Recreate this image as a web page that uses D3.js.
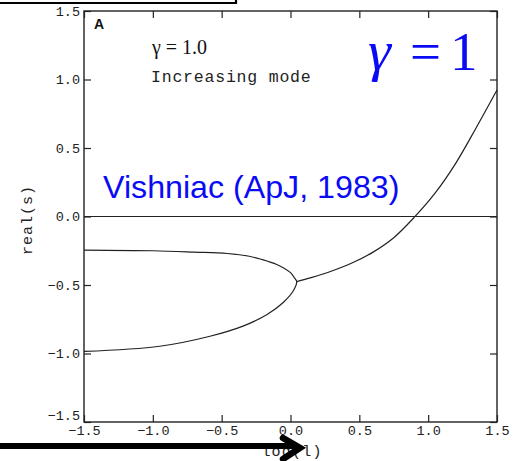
<!DOCTYPE html>
<html>
<head>
<meta charset="utf-8">
<script src="https://cdn.jsdelivr.net/npm/d3@7"></script>
<style>
  html, body { margin: 0; padding: 0; background: #fff; }
  svg { display: block; }
</style>
</head>
<body>
<svg id="chart" width="520" height="461"></svg>
<script>
// Growth-rate branches, real(s) against log(l)
const xTicks = [-1.5, -1.0, -0.5, 0.0, 0.5, 1.0, 1.5];
const yTicks = [-1.5, -1.0, -0.5, 0.0, 0.5, 1.0, 1.5];

// upper decaying branch, runs into the nose where it meets the lower one
const upperX = [-1.5, -1.0, -0.7, -0.46, -0.3, -0.22, -0.1, 0.0, 0.03, 0.045];
const upperY = [-0.245, -0.25, -0.26, -0.27, -0.29, -0.31, -0.35, -0.41, -0.45, -0.475];

// lower decaying branch
const lowerX = [-1.5, -0.95, -0.585, -0.345, -0.17, -0.055, 0.018];
const lowerY = [-0.985, -0.947, -0.874, -0.80, -0.716, -0.63, -0.546];

// single real branch beyond the cusp, turns unstable near log(l) = 0.9
const rightX = [0.045, 0.15, 0.3, 0.45, 0.6, 0.75, 0.9, 1.05, 1.2, 1.35, 1.5];
const rightY = [-0.475, -0.446, -0.398, -0.338, -0.26, -0.155, -0.005, 0.17, 0.388, 0.65, 0.923];

// zero line
const zeroX = [-1.5, 1.5];
const zeroY = [0, 0];

const svg = d3.select("#chart");
const x = d3.scaleLinear().domain([-1.5, 1.5]).range([84, 497]);
const y = d3.scaleLinear().domain([-1.5, 1.5]).range([422, 11]);

const ink = "#222";
const mono = "'Liberation Mono', 'DejaVu Sans Mono', monospace";

// frame
svg.append("rect")
  .attr("x", x(-1.5)).attr("y", y(1.5))
  .attr("width", x(1.5) - x(-1.5)).attr("height", y(-1.5) - y(1.5))
  .attr("fill", "none").attr("stroke", ink).attr("stroke-width", 1.4);

// inward ticks on all four sides; labels only on bottom and left
const fmt = d3.format(".1f");
const axisB = d3.axisBottom(x).tickValues(xTicks).tickSize(-7).tickPadding(3).tickFormat(fmt);
const axisT = d3.axisTop(x).tickValues(xTicks).tickSize(-7).tickFormat("");
const axisL = d3.axisLeft(y).tickValues(yTicks).tickSize(-7).tickPadding(4).tickFormat(fmt);
const axisR = d3.axisRight(y).tickValues(yTicks).tickSize(-7).tickFormat("");

function styleAxis(g) {
  g.select(".domain").remove();
  g.selectAll(".tick line").attr("stroke", ink).attr("stroke-width", 1.2);
  g.selectAll(".tick text")
    .attr("fill", ink)
    .style("font-family", mono)
    .style("font-size", "13.5px");
}
svg.append("g").attr("transform", `translate(0,${y(-1.5)})`).call(axisB).call(styleAxis);
svg.append("g").attr("transform", `translate(0,${y(1.5)})`).call(axisT).call(styleAxis);
const gl = svg.append("g").attr("transform", `translate(${x(-1.5)},0)`).call(axisL).call(styleAxis);
svg.append("g").attr("transform", `translate(${x(1.5)},0)`).call(axisR).call(styleAxis);
// nudge the corner label so it clears the bottom axis
gl.selectAll(".tick").filter(d => d === -1.5).select("text").attr("dy", "-0.2em");

// axis titles
svg.append("text")
  .attr("x", 292).attr("y", 456)
  .attr("text-anchor", "middle")
  .attr("fill", ink)
  .style("font-family", mono).style("font-size", "15px").style("letter-spacing", "1.2px")
  .text("log(l)");

svg.append("text")
  .attr("transform", "translate(32,220) rotate(-90)")
  .attr("text-anchor", "middle")
  .attr("fill", ink)
  .style("font-family", mono).style("font-size", "15px").style("letter-spacing", "1px")
  .text("real(s)");

// curves: zero line, the closed nose of the two decaying branches, the growing branch
const pts = (xs, ys) => d3.zip(xs, ys);
const straight = d3.line().x(d => x(d[0])).y(d => y(d[1]));
const smooth = d3.line().x(d => x(d[0])).y(d => y(d[1])).curve(d3.curveCatmullRom.alpha(0.5));

const nose = pts(upperX, upperY).concat(pts(lowerX, lowerY).reverse());
const curves = svg.append("g")
  .attr("fill", "none").attr("stroke", ink).attr("stroke-width", 1.2);
curves.append("path").attr("d", straight(pts(zeroX, zeroY)));
curves.append("path").attr("d", smooth(nose));
curves.append("path").attr("d", smooth(pts(rightX, rightY)));

// panel annotations
svg.append("text")
  .attr("x", 94).attr("y", 29)
  .attr("fill", "#111")
  .style("font-family", "'Liberation Sans', Arial, sans-serif")
  .style("font-size", "14px").style("font-weight", "bold")
  .text("A");

svg.append("text")
  .attr("x", 152).attr("y", 54)
  .attr("fill", "#111")
  .style("font-family", "'Liberation Serif', 'Times New Roman', serif")
  .style("font-size", "20px")
  .text("γ = 1.0");

svg.append("text")
  .attr("x", 151).attr("y", 82)
  .attr("fill", ink)
  .style("font-family", mono).style("font-size", "16.5px").style("letter-spacing", "0.8px")
  .text("Increasing mode");

// blue overlays
const blue = "#0a0af5";
const serif = "'Liberation Serif', 'Times New Roman', serif";
svg.append("text").attr("x", 368).attr("y", 70).attr("fill", blue)
  .style("font-family", serif).style("font-size", "58px").style("font-style", "italic")
  .text("γ");
svg.append("text").attr("x", 410).attr("y", 70).attr("fill", blue)
  .style("font-family", serif).style("font-size", "55px")
  .text("=");
svg.append("text").attr("x", 450).attr("y", 70).attr("fill", blue)
  .style("font-family", serif).style("font-size", "55px")
  .text("1");

svg.append("text")
  .attr("x", 103).attr("y", 198)
  .attr("fill", blue)
  .style("font-family", "'Liberation Sans', Arial, sans-serif")
  .style("font-size", "32.2px")
  .text("Vishniac (ApJ, 1983)");

// header bar at the top-left edge
svg.append("path")
  .attr("d", "M0,3 H236 V0")
  .attr("fill", "none").attr("stroke", "#000").attr("stroke-width", 2.2);

// arrow pointing at the x-axis title
svg.append("line")
  .attr("x1", 0).attr("y1", 446).attr("x2", 296).attr("y2", 446)
  .attr("stroke", "#000").attr("stroke-width", 6);
svg.append("path")
  .attr("d", "M283,438 L300,448 L283,459")
  .attr("fill", "none").attr("stroke", "#000").attr("stroke-width", 6.5)
  .attr("stroke-linecap", "round").attr("stroke-linejoin", "miter");
</script>
</body>
</html>
